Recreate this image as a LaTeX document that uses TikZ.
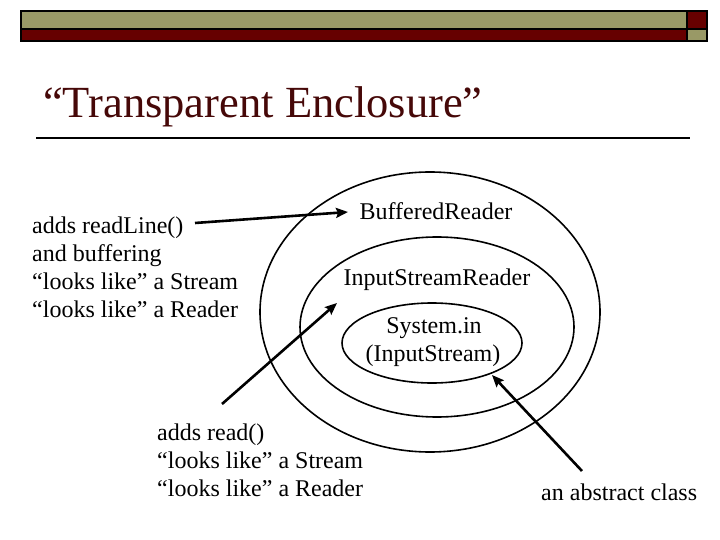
\documentclass[tikz,border=0pt]{standalone}
\usepackage{fontspec}
\setmainfont{Liberation Serif}
\usetikzlibrary{shapes.geometric, arrows.meta, positioning}
\usepackage{xcolor}
\definecolor{barolive}{RGB}{153,153,102}
\definecolor{barred}{RGB}{102,0,0}
\definecolor{titlered}{RGB}{70,8,8}

\begin{document}
\begin{tikzpicture}[
  x=1pt, y=-1pt,
  bar/.style={draw=black, line width=1.5pt},
  ring/.style={ellipse, draw=black, line width=1.6pt, inner sep=0pt},
  label/.style={inner sep=0pt, font=\fontsize{24}{27.6}\selectfont},
  note/.style={inner sep=0pt, align=left, anchor=base west,
    font=\fontsize{24}{28}\selectfont},
  arrow/.style={-{Stealth[length=12pt, width=10pt, inset=2pt]}, line width=2.6pt}
]
\useasboundingbox (0,0) rectangle (720,540);

% title bar
\filldraw[bar, fill=barolive] (21,11) rectangle (687,29);
\filldraw[bar, fill=barred] (687,11) rectangle (707,29);
\filldraw[bar, fill=barred] (21,29) rectangle (687,41);
\filldraw[bar, fill=barolive] (687,29) rectangle (707,41);

\node (title) [anchor=base west, inner sep=0pt, text=titlered,
  font=\fontsize{44.5}{48}\selectfont] at (43,118) {``Transparent Enclosure''};
\draw[line width=2pt] (36,138) -- (690,138);

% nested ellipses
\node (outer) [ring, minimum width=340pt, minimum height=280pt] at (430,312) {};
\node (middle) [ring, minimum width=274pt, minimum height=180pt] at (437,327) {};
\node (inner) [ring, minimum width=180pt, minimum height=80pt] at (432,343) {};

\node (buffered) [label, anchor=base] at (436,219) {BufferedReader};
\node (isreader) [label, anchor=base] at (437,285) {InputStreamReader};
\node (sysin) [label, anchor=base] at (434,333) {System.in};
\node (istream) [label, anchor=base] at (433,361) {(InputStream)};

% notes (anchored on the baseline of their last line)
\node (readline) [note] at (32,317.5) {adds readLine()\\and buffering\\``looks like'' a Stream\\``looks like'' a Reader};
\node (readchar) [note] at (157,496) {adds read()\\``looks like'' a Stream\\``looks like'' a Reader};
\node (abstract) [note] at (541,500) {an abstract class};

\coordinate (rlTail) at (195,223);
\coordinate (rlTip) at (348,212);
\coordinate (rcTail) at (222,404);
\coordinate (rcTip) at (337,303);
\coordinate (acTail) at (582,471);
\coordinate (acTip) at (492,375);

\draw [arrow] (rlTail) -- (rlTip);
\draw [arrow] (rcTail) -- (rcTip);
\draw [arrow] (acTail) -- (acTip);

\end{tikzpicture}
\end{document}
